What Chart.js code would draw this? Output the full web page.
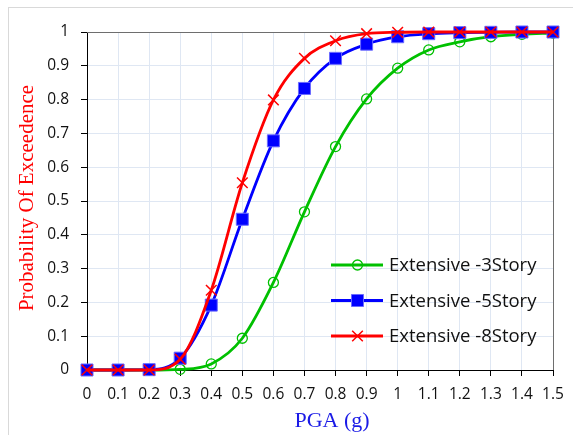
<!DOCTYPE html>
<html>
<head>
<meta charset="utf-8">
<script src="https://cdn.jsdelivr.net/npm/chart.js@4/dist/chart.umd.min.js"></script>
<style>
  html, body { margin: 0; padding: 0; background: #fff; }
  #wrap { width: 573px; height: 435px; position: relative; }
</style>
</head>
<body>
<div id="wrap"><canvas id="c" width="573" height="435"></canvas></div>
<script>
// ---- data ----
const pga = [0, 0.1, 0.2, 0.3, 0.4, 0.5, 0.6, 0.7, 0.8, 0.9, 1.0, 1.1, 1.2, 1.3, 1.4, 1.5];
const story3 = [0, 0, 0, 0.002, 0.018, 0.094, 0.259, 0.468, 0.661, 0.802, 0.893, 0.947, 0.971, 0.986, 0.993, 0.997];
const story5 = [0, 0, 0.001, 0.035, 0.192, 0.446, 0.678, 0.833, 0.922, 0.964, 0.986, 0.995, 0.998, 0.999, 1.0, 1.0];
const story8 = [0, 0, 0, 0.032, 0.236, 0.554, 0.799, 0.922, 0.974, 0.995, 0.999, 1.0, 1.0, 1.0, 1.0, 1.0];
const seriesNames = ['Extensive -3Story', 'Extensive -5Story', 'Extensive -8Story'];
const xTitle = 'PGA (g)';
const yTitle = 'Probability Of Exceedence';

const toPts = arr => pga.map((x, i) => ({ x: x, y: arr[i] }));

const GREEN = '#00c000', BLUE = '#0000ff', RED = '#ff0000';

const framePlugin = {
  id: 'frame',
  beforeDraw(chart) {
    const ctx = chart.ctx;
    ctx.save();
    ctx.fillStyle = '#fff';
    ctx.fillRect(0, 0, chart.width, chart.height);
    ctx.strokeStyle = '#d9d9d9';
    ctx.lineWidth = 1;
    ctx.strokeRect(8.5, 7.5, 700, 700);
    ctx.restore();
  },
  beforeDatasetsDraw(chart) {
    const a = chart.chartArea, ctx = chart.ctx;
    ctx.save();
    ctx.strokeStyle = '#6e6e6e';
    ctx.lineWidth = 1;
    ctx.beginPath();
    ctx.moveTo(a.left, Math.round(a.top) + 0.5);
    ctx.lineTo(Math.round(a.right) + 0.5, Math.round(a.top) + 0.5);
    ctx.lineTo(Math.round(a.right) + 0.5, a.bottom);
    ctx.stroke();
    ctx.restore();
  },
  afterDraw(chart) {
    const ctx = chart.ctx;
    // axis titles
    ctx.save();
    ctx.font = '21px "Liberation Serif"';
    ctx.fillStyle = '#ff0000';
    ctx.textAlign = 'center';
    ctx.textBaseline = 'middle';
    ctx.translate(27, 198);
    ctx.rotate(-Math.PI / 2);
    ctx.fillText(yTitle, 0, 0);
    ctx.restore();
    ctx.save();
    ctx.font = '22px "Liberation Serif"';
    ctx.fillStyle = '#1a1ae6';
    ctx.textAlign = 'center';
    ctx.textBaseline = 'middle';
    ctx.fillText(xTitle, 332, 421);
    ctx.restore();

    // legend inside the plot area
    const rows = [265, 300.5, 336];
    chart.data.datasets.forEach((d, i) => {
      const y = rows[i];
      ctx.save();
      ctx.strokeStyle = d.borderColor;
      ctx.lineWidth = d.borderWidth;
      ctx.beginPath();
      ctx.moveTo(331, y);
      ctx.lineTo(383, y);
      ctx.stroke();
      ctx.restore();
      ctx.save();
      ctx.fillStyle = d.pointBackgroundColor;
      ctx.strokeStyle = d.pointBorderColor;
      ctx.lineWidth = d.pointBorderWidth;
      Chart.helpers.drawPoint(ctx, { pointStyle: d.pointStyle, radius: d.pointRadius, borderWidth: d.pointBorderWidth, rotation: 0 }, 357.5, y);
      ctx.restore();
    });
    ctx.save();
    ctx.font = '18.5px "Open Sans"';
    ctx.fillStyle = '#111';
    ctx.textAlign = 'left';
    ctx.textBaseline = 'middle';
    chart.data.datasets.forEach((d, i) => {
      ctx.fillText(d.label, 389, rows[i] + 1);
    });
    ctx.restore();
  }
};

const ds = [
  { label: seriesNames[0], data: toPts(story3), borderColor: GREEN, backgroundColor: 'rgba(0,0,0,0)',
    pointStyle: 'circle', pointRadius: 5, pointBorderWidth: 1.3, pointBorderColor: GREEN,
    pointBackgroundColor: 'rgba(0,0,0,0)', order: 2 },
  { label: seriesNames[1], data: toPts(story5), borderColor: BLUE, backgroundColor: BLUE,
    pointStyle: 'rect', pointRadius: 8.5, pointBorderWidth: 1, pointBorderColor: '#6a6aff',
    pointBackgroundColor: BLUE, order: 1 },
  { label: seriesNames[2], data: toPts(story8), borderColor: RED, backgroundColor: RED,
    pointStyle: 'crossRot', pointRadius: 7.5, pointBorderWidth: 1.5, pointBorderColor: RED,
    pointBackgroundColor: RED, order: 0 }
];
ds.forEach(d => {
  d.borderWidth = 2.8;
  d.cubicInterpolationMode = 'monotone';
  d.clip = false;
  d.pointHoverRadius = d.pointRadius;
});

new Chart(document.getElementById('c'), {
  type: 'line',
  data: { datasets: ds },
  plugins: [framePlugin],
  options: {
    responsive: false,
    animation: false,
    devicePixelRatio: 1,
    layout: { padding: { left: 37, top: 32, right: 20, bottom: 0 } },
    plugins: { legend: { display: false }, tooltip: { enabled: false } },
    scales: {
      x: {
        type: 'linear', min: 0, max: 1.5,
        afterFit(s) { s.height = 65; },
        ticks: {
          stepSize: 0.1, padding: 9, color: '#111', maxRotation: 0, autoSkip: false,
          font: { family: '"Open Sans"', size: 15.5 },
          callback: v => String(Number(v.toFixed(1)))
        },
        grid: { color: '#dfe7f3', lineWidth: 1, tickLength: 6, tickColor: '#000' },
        border: { display: true, color: '#000', width: 1 }
      },
      y: {
        type: 'linear', min: 0, max: 1,
        afterFit(s) { s.width = 50; },
        ticks: {
          stepSize: 0.1, padding: 12, color: '#111',
          font: { family: '"Open Sans"', size: 15.5 },
          callback: v => String(Number(v.toFixed(1)))
        },
        grid: { color: '#dfe7f3', lineWidth: 1, tickLength: 6, tickColor: '#000' },
        border: { display: true, color: '#000', width: 1 }
      }
    }
  }
});
</script>
</body>
</html>
